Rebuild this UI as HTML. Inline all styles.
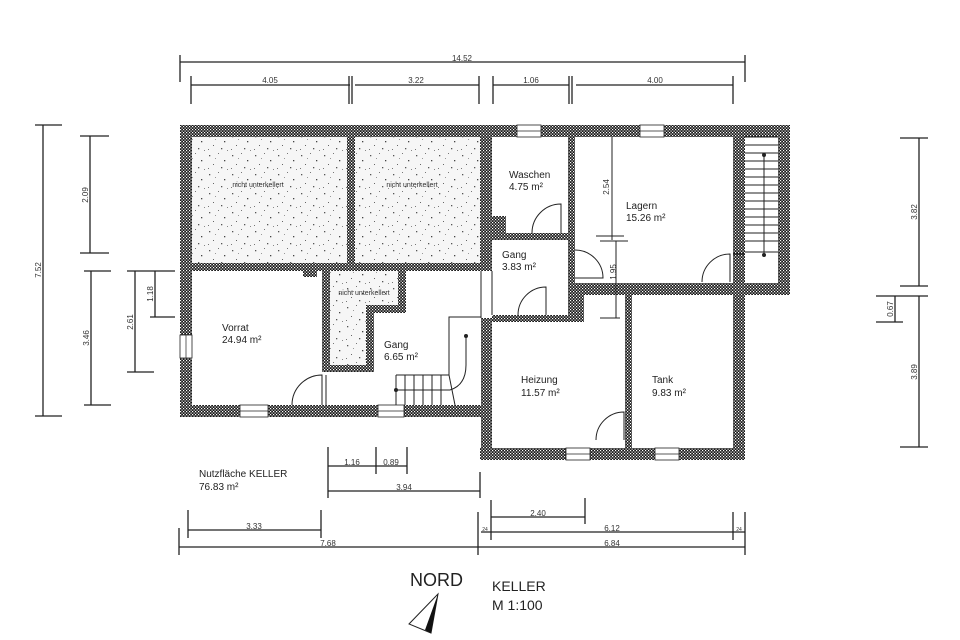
<!DOCTYPE html>
<html><head><meta charset="utf-8"><style>
html,body{margin:0;padding:0;background:#fff;}
svg{display:block;font-family:"Liberation Sans","DejaVu Sans",sans-serif;}
</style></head><body>
<svg width="960" height="640" viewBox="0 0 960 640" xmlns="http://www.w3.org/2000/svg">
<defs>
<pattern id="w" width="3" height="3" patternUnits="userSpaceOnUse">
<rect width="3" height="3" fill="#1a1a1a"/><rect x="0" y="0" width="1.2" height="1.2" fill="#fff"/><rect x="1.5" y="1.5" width="1.2" height="1.2" fill="#fff"/>
</pattern>
<pattern id="s" width="23" height="19" patternUnits="userSpaceOnUse">
<rect width="23" height="19" fill="#f6f6f6"/>
<rect x="2" y="3" width="1.3" height="1.3" fill="#555"/><rect x="11" y="1" width="1" height="1" fill="#777"/><rect x="17" y="8" width="1.3" height="1.3" fill="#444"/><rect x="6" y="12" width="1" height="1" fill="#666"/><rect x="14" y="15" width="1.3" height="1.3" fill="#555"/><rect x="20" y="17" width="1" height="1" fill="#888"/><rect x="8" y="6" width="1" height="1" fill="#999"/><rect x="1" y="16" width="1" height="1" fill="#777"/>
</pattern>
</defs>
<g stroke="#222" stroke-width="1.3" fill="none">
<line x1="180" y1="62" x2="745" y2="62"/><line x1="180" y1="55" x2="180" y2="82"/><line x1="745" y1="55" x2="745" y2="82"/>
<line x1="191" y1="85" x2="350" y2="85"/><line x1="355" y1="85" x2="479" y2="85"/><line x1="493" y1="85" x2="569" y2="85"/><line x1="576" y1="85" x2="733" y2="85"/>
<line x1="191" y1="76" x2="191" y2="104"/><line x1="349" y1="76" x2="349" y2="104"/><line x1="352" y1="76" x2="352" y2="104"/><line x1="479" y1="76" x2="479" y2="104"/><line x1="493" y1="76" x2="493" y2="104"/><line x1="569" y1="76" x2="569" y2="104"/><line x1="572" y1="76" x2="572" y2="104"/><line x1="733" y1="76" x2="733" y2="104"/>
<line x1="43" y1="125" x2="43" y2="416"/><line x1="35" y1="125" x2="62" y2="125"/><line x1="35" y1="416" x2="62" y2="416"/>
<line x1="90" y1="136" x2="90" y2="253"/><line x1="80" y1="136" x2="109" y2="136"/><line x1="80" y1="253" x2="109" y2="253"/>
<line x1="91" y1="271" x2="91" y2="405"/><line x1="84" y1="271" x2="111" y2="271"/><line x1="84" y1="405" x2="111" y2="405"/>
<line x1="135" y1="271" x2="135" y2="372"/><line x1="127" y1="271" x2="175" y2="271"/><line x1="127" y1="372" x2="154" y2="372"/>
<line x1="155" y1="271" x2="155" y2="317"/><line x1="150" y1="317" x2="175" y2="317"/>
<line x1="919" y1="138" x2="919" y2="286"/><line x1="900" y1="138" x2="928" y2="138"/><line x1="900" y1="286" x2="928" y2="286"/>
<line x1="919" y1="296" x2="919" y2="447"/><line x1="876" y1="296" x2="928" y2="296"/><line x1="900" y1="447" x2="928" y2="447"/>
<line x1="895" y1="296" x2="895" y2="322"/><line x1="876" y1="322" x2="903" y2="322"/>
<line x1="328" y1="466" x2="376" y2="466"/><line x1="376" y1="466" x2="407" y2="466"/>
<line x1="328" y1="447" x2="328" y2="498"/><line x1="376" y1="447" x2="376" y2="474"/><line x1="407" y1="447" x2="407" y2="474"/>
<line x1="328" y1="491" x2="480" y2="491"/><line x1="480" y1="472" x2="480" y2="498"/>
<line x1="188" y1="530" x2="321" y2="530"/><line x1="188" y1="510" x2="188" y2="538"/><line x1="321" y1="510" x2="321" y2="538"/>
<line x1="179" y1="547" x2="745" y2="547"/><line x1="179" y1="528" x2="179" y2="555"/><line x1="478" y1="512" x2="478" y2="555"/><line x1="745" y1="512" x2="745" y2="555"/>
<line x1="481" y1="532" x2="745" y2="532"/><line x1="491" y1="500" x2="491" y2="540"/><line x1="733" y1="512" x2="733" y2="540"/>
<line x1="491" y1="517" x2="585" y2="517"/><line x1="585" y1="498" x2="585" y2="524"/>
</g>
<g font-size="8" fill="#333" text-anchor="middle">
<text x="462" y="61">14.52</text>
<text x="270" y="83">4.05</text><text x="416" y="83">3.22</text><text x="531" y="83">1.06</text><text x="655" y="83">4.00</text>
<text x="352" y="465">1.16</text><text x="391" y="465">0.89</text>
<text x="404" y="490">3.94</text><text x="254" y="529">3.33</text><text x="328" y="546">7.68</text>
<text x="538" y="516">2.40</text><text x="612" y="531">6.12</text><text x="612" y="546">6.84</text>
<text font-size="5" x="485" y="531">24</text><text font-size="5" x="739" y="531">24</text>
<text transform="translate(41,270) rotate(-90)">7.52</text>
<text transform="translate(88,195) rotate(-90)">2.09</text>
<text transform="translate(89,338) rotate(-90)">3.46</text>
<text transform="translate(133,322) rotate(-90)">2.61</text>
<text transform="translate(153,294) rotate(-90)">1.18</text>
<text transform="translate(917,212) rotate(-90)">3.82</text>
<text transform="translate(917,372) rotate(-90)">3.89</text>
<text transform="translate(893,309) rotate(-90)">0.67</text>
<text transform="translate(609,187) rotate(-90)">2.54</text>
<text transform="translate(616,272) rotate(-90)">1.95</text>
</g>
<rect x="192" y="137" width="155" height="126" fill="url(#s)"/>
<rect x="355" y="137" width="125" height="126" fill="url(#s)"/>
<rect x="330" y="271" width="68" height="38" fill="url(#s)"/>
<rect x="330" y="271" width="36" height="94" fill="url(#s)"/>
<g fill="url(#w)">
<rect x="180" y="125" width="610" height="12"/>
<rect x="180" y="125" width="12" height="292"/>
<rect x="180" y="405" width="302" height="12"/>
<rect x="480" y="125" width="12" height="146"/>
<rect x="481" y="318" width="11" height="142"/>
<rect x="480" y="448" width="265" height="12"/>
<rect x="733" y="125" width="12" height="335"/>
<rect x="778" y="125" width="12" height="170"/>
<rect x="568" y="283" width="222" height="12"/>
<rect x="180" y="263" width="312" height="8"/>
<rect x="347" y="137" width="8" height="126"/>
<rect x="568" y="137" width="7" height="150"/>
<rect x="492" y="233" width="76" height="7"/>
<rect x="492" y="315" width="92" height="7"/>
<rect x="568" y="283" width="16" height="39"/>
<rect x="625" y="290" width="7" height="158"/>
<rect x="322" y="271" width="8" height="101"/>
<rect x="398" y="271" width="8" height="42"/>
<rect x="366" y="305" width="40" height="8"/>
<rect x="366" y="305" width="8" height="67"/>
<rect x="322" y="365" width="52" height="7"/>
<rect x="303" y="263" width="14" height="14"/>
<rect x="492" y="216" width="14" height="17"/>
<rect x="570" y="303" width="14" height="15"/>
</g>
<g fill="#fff" stroke="#222" stroke-width="0.8">
<rect x="517" y="125" width="24" height="12"/><rect x="640" y="125" width="24" height="12"/>
<rect x="180" y="335" width="12" height="23"/>
<rect x="240" y="405" width="28" height="12"/><rect x="378" y="405" width="26" height="12"/>
<rect x="566" y="448" width="24" height="12"/><rect x="655" y="448" width="24" height="12"/>
</g>
<g stroke="#222" stroke-width="0.7">
<line x1="517" y1="131" x2="541" y2="131"/><line x1="640" y1="131" x2="664" y2="131"/>
<line x1="186" y1="335" x2="186" y2="358"/>
<line x1="240" y1="411" x2="268" y2="411"/><line x1="378" y1="411" x2="404" y2="411"/>
<line x1="566" y1="454" x2="590" y2="454"/><line x1="655" y1="454" x2="679" y2="454"/>
</g>
<g stroke="#222" stroke-width="1" fill="none">
<line x1="481" y1="271" x2="481" y2="318"/>
<line x1="492" y1="271" x2="492" y2="315"/>
<line x1="745" y1="137" x2="778" y2="137"/>
<line x1="745" y1="145" x2="778" y2="145"/><line x1="745" y1="153" x2="778" y2="153"/><line x1="745" y1="161" x2="778" y2="161"/><line x1="745" y1="169" x2="778" y2="169"/><line x1="745" y1="177" x2="778" y2="177"/><line x1="745" y1="185" x2="778" y2="185"/><line x1="745" y1="193" x2="778" y2="193"/><line x1="745" y1="201" x2="778" y2="201"/><line x1="745" y1="209" x2="778" y2="209"/><line x1="745" y1="217" x2="778" y2="217"/><line x1="745" y1="225" x2="778" y2="225"/><line x1="745" y1="233" x2="778" y2="233"/><line x1="745" y1="241" x2="778" y2="241"/><line x1="745" y1="252" x2="778" y2="252"/>
<line x1="764" y1="155" x2="764" y2="255"/>
<polyline points="449,375 449,317 481,317"/>
<line x1="396" y1="375" x2="449" y2="375"/>
<line x1="396" y1="375" x2="396" y2="405"/><line x1="405" y1="375" x2="405" y2="405"/><line x1="414" y1="375" x2="414" y2="405"/><line x1="423" y1="375" x2="423" y2="405"/><line x1="432" y1="375" x2="432" y2="405"/><line x1="441" y1="375" x2="441" y2="405"/><line x1="449" y1="375" x2="455" y2="405"/>
<line x1="396" y1="390" x2="450" y2="390"/>
<path d="M450,390 Q466,385 466,365 L466,336"/>
<path d="M292,405 A30,30 0 0 1 322,375 L322,405"/><line x1="326" y1="375" x2="326" y2="405"/>
<path d="M532,233 A29,29 0 0 1 561,204 L561,233"/>
<path d="M518,315 A28,28 0 0 1 546,287 L546,315"/>
<path d="M575,250 A28,28 0 0 1 603,278 L575,278"/>
<path d="M702,282 A28,28 0 0 1 730,254 L730,282"/><line x1="733" y1="254" x2="745" y2="254"/>
<path d="M596,440 A28,28 0 0 1 624,412 L624,440"/>
<line x1="612" y1="137" x2="612" y2="240"/><line x1="596" y1="236" x2="624" y2="236"/><line x1="600" y1="241" x2="628" y2="241"/>
<line x1="616" y1="241" x2="616" y2="318"/><line x1="600" y1="318" x2="620" y2="318"/>
</g>
<g fill="#222"><circle cx="764" cy="155" r="2"/><circle cx="764" cy="255" r="2"/><circle cx="466" cy="336" r="2"/><circle cx="396" cy="390" r="2"/></g>
<g font-size="10" fill="#222">
<text x="222" y="331">Vorrat</text><text x="222" y="343">24.94 m²</text>
<text x="384" y="348">Gang</text><text x="384" y="360">6.65 m²</text>
<text x="509" y="178">Waschen</text><text x="509" y="190">4.75 m²</text>
<text x="626" y="209">Lagern</text><text x="626" y="221">15.26 m²</text>
<text x="502" y="258">Gang</text><text x="502" y="270">3.83 m²</text>
<text x="521" y="383">Heizung</text><text x="521" y="396">11.57 m²</text>
<text x="652" y="383">Tank</text><text x="652" y="396">9.83 m²</text>
<text x="199" y="477">Nutzfläche KELLER</text><text x="199" y="490">76.83 m²</text>
</g>
<g font-size="7" fill="#333" text-anchor="middle">
<text x="258" y="187">nicht unterkellert</text><text x="412" y="187">nicht unterkellert</text><text x="364" y="295">nicht unterkellert</text>
</g>
<text x="410" y="586" font-size="18" fill="#222">NORD</text>
<text x="492" y="591" font-size="14" fill="#222">KELLER</text>
<text x="492" y="610" font-size="14" fill="#222">M 1:100</text>
<polygon points="438,594 409,624 431,633" fill="#fff" stroke="#222" stroke-width="1"/>
<polygon points="438,594 425,630 431,633" fill="#111"/>
</svg>
</body></html>
